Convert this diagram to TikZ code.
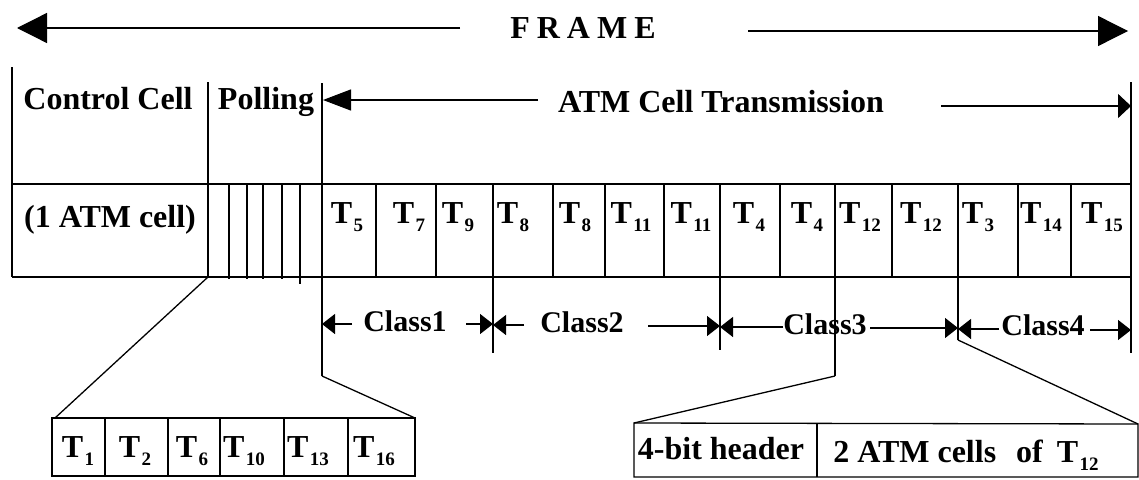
\documentclass[tikz,border=0pt]{standalone}
\usepackage{fontspec}
\setmainfont{Liberation Serif}
\usetikzlibrary{arrows.meta}
\newcommand{\Tsb}[1]{T\kern1.5pt\raisebox{-8pt}{\fontsize{19}{19}\selectfont #1}}
\begin{document}
\begin{tikzpicture}[x=1pt,y=-1pt,line width=1.3pt,
  lbl/.style={anchor=base,inner sep=0pt,font=\fontsize{32}{34}\selectfont\bfseries},
  tl/.style={anchor=base,inner sep=0pt,font=\fontsize{32}{34}\selectfont\bfseries},
  cls/.style={anchor=base,inner sep=0pt,font=\fontsize{30}{32}\selectfont\bfseries},
  bigarrow/.style={-{Triangle[length=30pt,width=30pt]}},
  midarrow/.style={-{Triangle[length=28pt,width=21pt]}},
  endarrow/.style={-{Triangle[length=13pt,width=24pt]}},
  clsarrow/.style={-{Triangle[length=13pt,width=20pt]}}]
\useasboundingbox (0,0) rectangle (1139,479);
\fill[white] (0,0) rectangle (1139,479);
% ---------- FRAME ----------
\node[lbl] (frame) at (583,38) {F\hspace{7pt}R\hspace{7pt}A\hspace{7pt}M\hspace{7pt}E};
\coordinate (fl0) at (460,28); \coordinate (fl1) at (17,28);
\coordinate (fr0) at (748,31); \coordinate (fr1) at (1128,31);
\draw[bigarrow] (fl0) -- (fl1);
\draw[bigarrow] (fr0) -- (fr1);
% ---------- header texts ----------
\node[lbl] (cc) at (108,109) {Control Cell};
\node[lbl] (pol) at (266,109) {Polling};
\node[lbl] (atm) at (721,112) {ATM Cell Transmission};
\coordinate (al0) at (538,100); \coordinate (al1) at (323,100);
\coordinate (ar0) at (941,106); \coordinate (ar1) at (1131,106);
\draw[midarrow] (al0) -- (al1);
\draw[endarrow] (ar0) -- (ar1);
% ---------- frame verticals ----------
\draw (12,67) -- (12,277);
\draw (208,82) -- (208,277);
\coordinate (pl) at (322,376);
\draw (322,83) -- (pl);
\draw (1131,82) -- (1131,353);
% ---------- cell row ----------
\draw (12,184) -- (1131,184);
\draw (12,277) -- (1131,277);
\foreach \x in {229,247,263,282} \draw (\x,184) -- (\x,279);
\draw (300,184) -- (300,284);
\foreach \x in {376,436,553,605,664,780,892,1018,1071} \draw (\x,184) -- (\x,277);
\coordinate (c3) at (835,376);
\coordinate (c4) at (958,340);
\draw (493,184) -- (493,353);
\draw (720,184) -- (720,350);
\draw (835,184) -- (c3);
\draw (958,184) -- (c4);
\node[lbl] (one) at (110,227) {(1 ATM cell)};
\node[tl] (t5)  at (347,223) {\Tsb{5}};
\node[tl] (t7)  at (409,223) {\Tsb{7}};
\node[tl] (t9)  at (458,223) {\Tsb{9}};
\node[tl] (t8a) at (513,223) {\Tsb{8}};
\node[tl] (t8b) at (575,223) {\Tsb{8}};
\node[tl] (t11a) at (631,223) {\Tsb{11}};
\node[tl] (t11b) at (691,223) {\Tsb{11}};
\node[tl] (t4a) at (749,223) {\Tsb{4}};
\node[tl] (t4b) at (807,223) {\Tsb{4}};
\node[tl] (t12a) at (860,223) {\Tsb{12}};
\node[tl] (t12b) at (921,223) {\Tsb{12}};
\node[tl] (t3) at (978,223) {\Tsb{3}};
\node[tl] (t14) at (1041,223) {\Tsb{14}};
\node[tl] (t15) at (1102,223) {\Tsb{15}};
% ---------- classes ----------
\node[cls] (k1) at (405,331) {Class1};
\node[cls] (k2) at (582,332) {Class2};
\node[cls] (k3) at (825,334) {Class3};
\node[cls] (k4) at (1043,335) {Class4};
\draw[clsarrow] (352,324) -- (322,324);
\draw[clsarrow] (466,324) -- (493,324);
\draw[clsarrow] (524,325) -- (493,325);
\draw[clsarrow] (648,326) -- (720,326);
\draw[clsarrow] (783,327) -- (720,327);
\draw[clsarrow] (870,328) -- (958,328);
\draw[clsarrow] (999,329) -- (958,329);
\draw[clsarrow] (1090,330) -- (1131,330);
% ---------- polling expansion ----------
\coordinate (pb) at (208,277);
\coordinate (bl) at (52,418);
\coordinate (br) at (415,418);
\draw (bl) rectangle (415,476);
\foreach \x in {105,168,220,284,348} \draw (\x,418) -- (\x,476);
\draw (pb) -- (55,418);
\draw (pl) -- (br);
\node[tl] (b1)  at (78,457) {\Tsb{1}};
\node[tl] (b2)  at (135,457) {\Tsb{2}};
\node[tl] (b6)  at (192,457) {\Tsb{6}};
\node[tl] (b10) at (244,457) {\Tsb{10}};
\node[tl] (b13) at (308,457) {\Tsb{13}};
\node[tl] (b16) at (374,457) {\Tsb{16}};
% ---------- class3 expansion ----------
\coordinate (hl) at (634,423);
\coordinate (hr) at (1138,424);
\draw (hl) -- (hr) -- (1138,477) -- (634,477) -- cycle;
\draw (817,423) -- (817,477);
\draw (c3) -- (hl);
\draw (c4) -- (hr);
\node[lbl] (hdr) at (721,459) {4-bit header};
\node[lbl] (cells) at (966,462) {2 ATM cells\hspace{20pt}of\hspace{14pt}\Tsb{12}};
\end{tikzpicture}
\end{document}
